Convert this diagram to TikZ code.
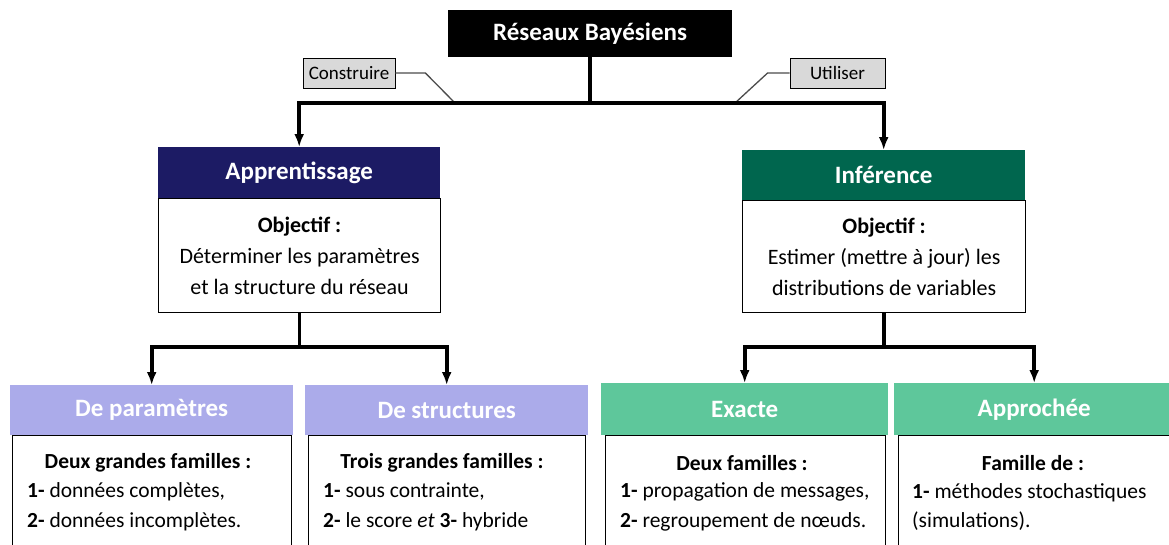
\documentclass[tikz,border=0pt]{standalone}
\usepackage{fontspec}
\setmainfont{Carlito}
\usetikzlibrary{arrows.meta}
\definecolor{navy}{HTML}{1C1B64}
\definecolor{dgreen}{HTML}{00664E}
\definecolor{lav}{HTML}{ABABEA}
\definecolor{mint}{HTML}{5EC79B}
\definecolor{callgray}{HTML}{D9D9D9}
\begin{document}
\begin{tikzpicture}[x=1pt,y=-1pt,
  hdr/.style={draw=none,text=white,font=\fontsize{25}{29}\selectfont\bfseries,anchor=north west,inner sep=0pt},
  bodybox/.style={draw=black,line width=1.2pt,fill=white,anchor=north west,inner sep=0pt},
  bodytxt/.style={font=\fontsize{22}{31}\selectfont,align=center,inner sep=0pt},
  btitle/.style={font=\fontsize{21.5}{25}\selectfont\bfseries,inner sep=0pt},
  blist/.style={font=\fontsize{21.5}{29.5}\selectfont,align=left,anchor=west,inner sep=0pt},
  callbox/.style={draw=black,line width=0.8pt,fill=callgray,font=\fontsize{19}{22}\selectfont,inner sep=0pt,minimum height=30pt},
  callline/.style={draw=black!70,line width=1.3pt},
  trunk/.style={line width=3.6pt},
  arr/.style={line width=3.6pt,-{Latex[length=13pt,width=10pt]}}
]
\useasboundingbox (0,0) rectangle (1169,544);
\fill[white] (0,0) rectangle (1169,544);

% title
\node[fill=black,text=white,font=\fontsize{25}{29}\selectfont\bfseries,minimum width=284pt,minimum height=47pt,inner sep=0pt] (title) at (590,33.5) {Réseaux Bayésiens};

% callouts
\node[callbox,minimum width=92pt] (constr) at (349,73) {Construire};
\node[callbox,minimum width=95pt] (util) at (837.5,73) {Utiliser};
\coordinate (cj1) at (455,103);
\coordinate (cj2) at (735,103);
\draw[callline] (constr.east) -- ++(30,0) -- (cj1);
\draw[callline] (util.west) -- ++(-22,0) -- (cj2);

% second level
\node[hdr,fill=navy,minimum width=282pt,minimum height=51pt] (apph) at (158,147) {Apprentissage};
\node[bodybox,minimum width=282pt,minimum height=114pt] (appb) at (158,198) {};
\node[bodytxt] (appt) at (appb.center) {\textbf{Objectif :}\\Déterminer les paramètres\\et la structure du réseau};

\node[hdr,fill=dgreen,minimum width=283pt,minimum height=50pt] (infh) at (742,150) {Inférence};
\node[bodybox,minimum width=283pt,minimum height=112pt] (infb) at (742,200) {};
\node[bodytxt] (inft) at (infb.center) {\textbf{Objectif :}\\Estimer (mettre à jour) les\\distributions de variables};

% top connectors
\coordinate (hub) at (title.south |- {(0,103)});
\draw[trunk] (title.south) -- (hub);
\draw[arr] (hub) -| (apph.north);
\draw[arr] (hub) -| (infh.north);

% third level headers
\node[hdr,fill=lav,minimum width=283pt,minimum height=50pt] (dph) at (10,385) {De paramètres};
\node[hdr,fill=lav,minimum width=283pt,minimum height=50pt] (dsh) at (305,385) {De structures};
\node[hdr,fill=mint,minimum width=287pt,minimum height=52pt] (exh) at (601,383) {Exacte};
\node[hdr,fill=mint,minimum width=280pt,minimum height=52pt] (aph) at (894,383) {Approchée};

% third level bodies
\node[bodybox,minimum width=279pt,minimum height=130pt] (dpb) at (12,435) {};
\node[bodybox,minimum width=277pt,minimum height=130pt] (dsb) at (308,435) {};
\node[bodybox,minimum width=280pt,minimum height=130pt] (exb) at (605,435) {};
\node[bodybox,minimum width=280pt,minimum height=130pt] (apb) at (898,435) {};

\node[btitle] (dpt) at (148,463) {Deux grandes familles :};
\node[blist] (dpl) at (27,507) {\textbf{1-} données complètes,\\\textbf{2-} données incomplètes.};
\node[btitle] (dst) at (442,463) {Trois grandes familles :};
\node[blist] (dsl) at (323,507) {\textbf{1-} sous contrainte,\\\textbf{2-} le score \textit{et} \textbf{3-} hybride};
\node[btitle] (ext) at (742,463) {Deux familles :};
\node[blist] (exl) at (620,507) {\textbf{1-} propagation de messages,\\\textbf{2-} regroupement de nœuds.};
\node[btitle] (apt) at (1033,463) {Famille de :};
\node[blist] (apl) at (912,507) {\textbf{1-} méthodes stochastiques\\(simulations).};

% lower connectors
\coordinate (hub2) at (appb.south |- {(0,347)});
\coordinate (hub3) at (infb.south |- {(0,347)});
\draw[trunk] (appb.south) -- (hub2);
\draw[arr] (hub2) -| (dph.north);
\draw[arr] (hub2) -| (dsh.north);
\draw[trunk] (infb.south) -- (hub3);
\draw[arr] (hub3) -| (exh.north);
\draw[arr] (hub3) -| (aph.north);
\end{tikzpicture}
\end{document}
